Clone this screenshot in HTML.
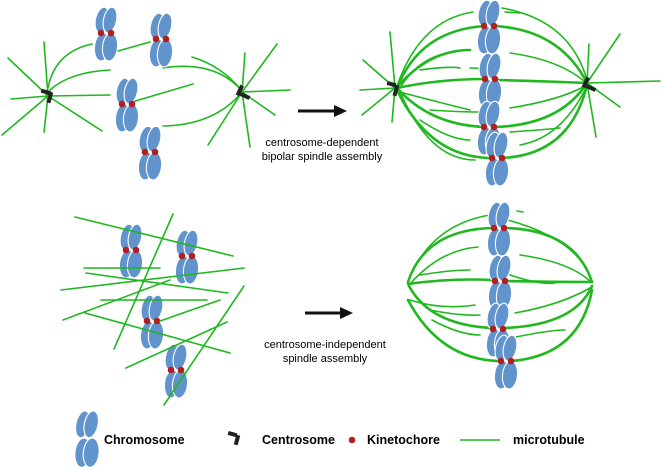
<!DOCTYPE html>
<html><head><meta charset="utf-8"><style>
html,body{margin:0;padding:0;background:#fff;}
svg{display:block;}
text{font-family:"Liberation Sans",Arial,sans-serif;}
</style></head><body>
<svg width="662" height="470" viewBox="0 0 662 470" xmlns="http://www.w3.org/2000/svg">
<defs>
<symbol id="chr" overflow="visible">
 <g fill="#6194cc" stroke="#fff" stroke-width="1.1">
  <ellipse cx="-4" cy="-13" rx="6.5" ry="13" transform="rotate(12 -4 -13)"/>
  <ellipse cx="4" cy="-13" rx="6.5" ry="13" transform="rotate(12 4 -13)"/>
  <ellipse cx="-4" cy="14" rx="7.5" ry="14" transform="rotate(6 -4 14)"/>
  <ellipse cx="4" cy="14" rx="7.5" ry="14" transform="rotate(6 4 14)"/>
 </g>
 <circle cx="-5" cy="0" r="3.3" fill="#b02020"/>
 <circle cx="5" cy="0" r="3.3" fill="#b02020"/>
</symbol>
<symbol id="chr0" overflow="visible">
 <g fill="#6194cc" stroke="#fff" stroke-width="1.1">
  <ellipse cx="-4" cy="-13" rx="6.5" ry="13" transform="rotate(12 -4 -13)"/>
  <ellipse cx="4" cy="-13" rx="6.5" ry="13" transform="rotate(12 4 -13)"/>
  <ellipse cx="-4" cy="14" rx="7.5" ry="14" transform="rotate(6 -4 14)"/>
  <ellipse cx="4" cy="14" rx="7.5" ry="14" transform="rotate(6 4 14)"/>
 </g>
</symbol>
</defs>

<!-- TOP LEFT microtubules -->
<g stroke="#1fb81f" stroke-width="1.6" fill="none" stroke-linecap="round">
 <line x1="48" y1="96" x2="8" y2="58"/><line x1="48" y1="96" x2="44" y2="42"/>
 <line x1="48" y1="96" x2="11" y2="99"/><line x1="48" y1="96" x2="2" y2="135"/>
 <line x1="48" y1="96" x2="44" y2="132"/><line x1="48" y1="96" x2="102" y2="131"/>
 <line x1="48" y1="96" x2="110" y2="95"/>
 <path d="M48 88 Q55 52 92 44"/><path d="M50 90 Q70 72 110 70"/>
 <line x1="118" y1="51" x2="150" y2="42"/><line x1="132" y1="102" x2="193" y2="84"/>
 <path d="M242 91 Q215 60 163 68"/><path d="M242 92 Q215 125 163 126"/>
 <path d="M242 91 Q222 66 192 57"/>
 <line x1="242" y1="92" x2="277" y2="44"/><line x1="242" y1="92" x2="245" y2="53"/>
 <line x1="242" y1="92" x2="290" y2="90"/><line x1="242" y1="92" x2="275" y2="115"/>
 <line x1="242" y1="92" x2="250" y2="147"/><line x1="242" y1="92" x2="208" y2="145"/>
</g>
<g fill="#222"><rect x="41" y="90" width="10" height="4" transform="rotate(15 46 92)"/><rect x="48" y="92" width="4" height="11" transform="rotate(15 50 97)"/>
<rect x="238" y="85" width="4" height="11" transform="rotate(25 240 90)"/><rect x="240" y="94" width="10" height="4" transform="rotate(25 245 96)"/></g>
<use href="#chr" x="106" y="33"/><use href="#chr" x="161" y="39"/>
<use href="#chr" x="127" y="104"/><use href="#chr" x="150" y="152"/>

<!-- arrow 1 -->
<line x1="298" y1="111" x2="336" y2="111" stroke="#111" stroke-width="3"/>
<polygon points="334,105 347,111 334,117" fill="#111"/>
<text x="322" y="146" font-size="11" text-anchor="middle">centrosome-dependent</text>
<text x="322" y="160" font-size="11" text-anchor="middle">bipolar spindle assembly</text>

<!-- TOP RIGHT spindle -->
<g stroke="#1fb81f" fill="none" stroke-linecap="round">
 <g stroke-width="1.6">
 <line x1="395" y1="88" x2="363" y2="60"/><line x1="395" y1="88" x2="360" y2="90"/>
 <line x1="395" y1="88" x2="362" y2="115"/><line x1="395" y1="88" x2="390" y2="32"/>
 <line x1="395" y1="88" x2="392" y2="122"/>
 <line x1="587" y1="83" x2="620" y2="34"/><line x1="587" y1="83" x2="589" y2="44"/>
 <line x1="587" y1="83" x2="660" y2="81"/><line x1="587" y1="83" x2="620" y2="107"/>
 <line x1="587" y1="83" x2="596" y2="137"/>
 <path d="M397 86 Q420 20 473 12"/><path d="M502 8 Q570 20 587 80"/>
 <path d="M400 88 Q420 55 455 52"/><path d="M510 53 Q560 60 585 82"/>
 <path d="M420 70 Q450 66 460 68"/><path d="M470 68 Q480 68 490 70"/>
 <path d="M400 92 Q430 100 470 110"/><path d="M430 110 Q460 112 480 112"/>
 <path d="M420 120 Q450 140 470 140"/><path d="M510 108 Q560 100 585 86"/>
 <path d="M510 132 Q540 130 560 128"/><path d="M400 92 Q430 160 475 160"/>
 <path d="M520 145 Q560 138 585 90"/><path d="M505 12 L520 13"/>
 </g>
 <g stroke-width="2.6">
 <path d="M397 88 Q420 30 485 26"/><path d="M495 26 Q560 30 587 83"/>
 <path d="M397 88 Q440 79 485 79"/><path d="M495 80 Q540 81 587 83"/>
 <path d="M397 88 Q430 125 485 127"/><path d="M495 127 Q560 125 587 83"/>
 <path d="M397 90 Q430 158 492 158"/><path d="M502 158 Q570 155 587 85"/>
 <path d="M398 86 Q430 50 470 50"/>
 </g>
</g>
<g fill="#222"><rect x="387" y="82" width="9" height="4" transform="rotate(15 391 84)"/><rect x="394" y="85" width="4" height="11" transform="rotate(15 396 90)"/>
<rect x="584" y="77" width="4" height="11" transform="rotate(25 586 82)"/><rect x="586" y="86" width="10" height="4" transform="rotate(25 591 88)"/></g>
<use href="#chr" x="489" y="26"/><use href="#chr" x="490" y="79"/>
<use href="#chr" x="489" y="127"/><use href="#chr" x="497" y="158"/>

<!-- BOTTOM LEFT -->
<use href="#chr" x="131" y="250"/><use href="#chr" x="187" y="256"/>
<use href="#chr" x="152" y="321"/><use href="#chr" x="176" y="370"/>
<g stroke="#1fb81f" stroke-width="1.6" stroke-linecap="round">
 <line x1="75" y1="217" x2="233" y2="256"/><line x1="173" y1="214" x2="114" y2="349"/>
 <line x1="84" y1="268" x2="160" y2="268"/><line x1="86" y1="273" x2="228" y2="293"/>
 <line x1="61" y1="290" x2="244" y2="268"/><line x1="101" y1="300" x2="207" y2="300"/>
 <line x1="63" y1="320" x2="170" y2="280"/><line x1="85" y1="313" x2="230" y2="353"/>
 <line x1="126" y1="368" x2="227" y2="322"/><line x1="160" y1="321" x2="220" y2="300"/>
 <line x1="244" y1="286" x2="164" y2="405"/>
</g>

<!-- arrow 2 -->
<line x1="305" y1="313" x2="342" y2="313" stroke="#111" stroke-width="3"/>
<polygon points="340,307 353,313 340,319" fill="#111"/>
<text x="325" y="348" font-size="11" text-anchor="middle">centrosome-independent</text>
<text x="325" y="362" font-size="11" text-anchor="middle">spindle assembly</text>

<!-- BOTTOM RIGHT spindle -->
<g stroke="#1fb81f" fill="none" stroke-linecap="round">
 <g stroke-width="1.6">
 <path d="M408 282 Q430 225 490 215"/><path d="M508 220 Q580 240 592 282"/>
 <path d="M410 284 Q440 250 478 247"/><path d="M520 255 Q570 262 591 282"/>
 <path d="M420 275 Q450 270 470 270"/><path d="M510 275 Q540 285 555 283"/>
 <path d="M410 300 Q440 310 475 305"/><path d="M430 310 Q460 316 480 315"/>
 <path d="M432 320 Q460 335 480 335"/><path d="M515 313 Q560 305 590 288"/>
 <path d="M516 337 Q550 330 565 330"/><path d="M517 211 L523 212"/>
 </g>
 <g stroke-width="2.6">
 <path d="M408 282 Q425 230 492 228"/><path d="M505 228 Q575 230 592 282"/>
 <path d="M408 284 Q450 278 494 280"/><path d="M505 281 Q550 282 592 282"/>
 <path d="M409 286 Q430 325 492 328"/><path d="M505 328 Q575 325 592 286"/>
 <path d="M408 300 Q440 360 500 361"/><path d="M512 361 Q580 355 592 290"/>
 </g>
</g>
<use href="#chr" x="499" y="228"/><use href="#chr" x="500" y="281"/>
<use href="#chr" x="498" y="329"/><use href="#chr" x="506" y="361"/>

<!-- LEGEND -->
<g transform="translate(87 438) scale(1.05)"><use href="#chr0"/></g>
<text x="104" y="444" font-size="12.5" font-weight="bold">Chromosome</text>
<g fill="#222"><rect x="228" y="432" width="9" height="4" transform="rotate(15 232 434)"/><rect x="235" y="435" width="4" height="10" transform="rotate(15 237 440)"/></g>
<text x="262" y="444" font-size="12.5" font-weight="bold">Centrosome</text>
<circle cx="352" cy="440" r="3.3" fill="#b02020"/>
<text x="367" y="444" font-size="12.5" font-weight="bold">Kinetochore</text>
<line x1="460" y1="440" x2="500" y2="440" stroke="#1fb81f" stroke-width="1.6"/>
<text x="513" y="444" font-size="12.5" font-weight="bold">microtubule</text>
</svg>
</body></html>
